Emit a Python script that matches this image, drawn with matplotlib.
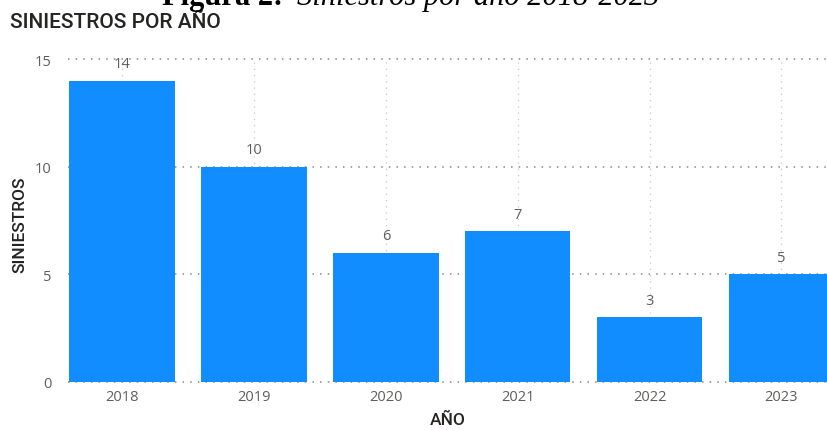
import matplotlib.pyplot as plt

# siniestros registrados por año
anios = ["2018", "2019", "2020", "2021", "2022", "2023"]
siniestros = [14, 10, 6, 7, 3, 5]
yticks = [0, 5, 10, 15]

azul = "#118DFF"
gris_txt = "#605E5C"
gris_titulo = "#252423"

fig = plt.figure(figsize=(8.27, 4.31), dpi=100)
ax = fig.add_axes([68 / 827, 1 - 383 / 431, 1 - 68 / 827, (383 - 60) / 431])

x = list(range(len(anios)))
ax.bar(x, siniestros, width=0.8, color=azul, zorder=2)

for xi, v in zip(x, siniestros):
    ax.annotate(str(v), (xi, v), xytext=(0, 7), textcoords="offset points",
                ha="center", va="bottom", fontsize=10.5, color=gris_txt,
                family="Open Sans", zorder=3)

ax.set_xlim(-0.41, 5.345)
ax.set_ylim(0, 15)
ax.set_xticks(x)
ax.set_xticklabels(anios, family="Open Sans", fontsize=10.5, color=gris_txt)
ax.set_yticks(yticks)
ax.set_yticklabels([str(t) for t in yticks], family="Open Sans", fontsize=10.5,
                   color=gris_txt)
ax.tick_params(length=0, pad=5)
ax.tick_params(axis="y", pad=12)

# rejilla punteada
for t in yticks:
    ax.axhline(t, color="#8A8886", lw=1.1, ls=(0, (1, 4)), zorder=1, clip_on=False)
for xi in x:
    ax.axvline(xi, color="#C8C6C4", lw=0.9, ls=(0, (1, 4)), zorder=1)

for s in ax.spines.values():
    s.set_visible(False)

ax.set_ylabel("SINIESTROS", family="Roboto", weight="medium",
              fontsize=12.5, color=gris_titulo)
ax.yaxis.set_label_coords(-0.054, 0.49)
ax.set_xlabel("AÑO", family="Roboto", weight="medium", fontsize=12.5,
              color=gris_titulo, labelpad=6)

fig.text(10 / 827, 1 - 22 / 431, "SINIESTROS POR AÑO", family="Roboto",
         weight="medium", fontsize=15, color=gris_titulo, va="center",
         ha="left")

# pie de figura cortado en la parte superior
fig.text(162 / 827, 1 - 5 / 431, "Figura 2:", family="Liberation Serif",
         weight="bold", fontsize=22, color="black", va="baseline", ha="left")
fig.text(297 / 827, 1 - 5 / 431, "Siniestros por año 2018-2023",
         family="Liberation Serif", style="italic", fontsize=22, color="black",
         va="baseline", ha="left")

fig.savefig("out.png", dpi=100)
